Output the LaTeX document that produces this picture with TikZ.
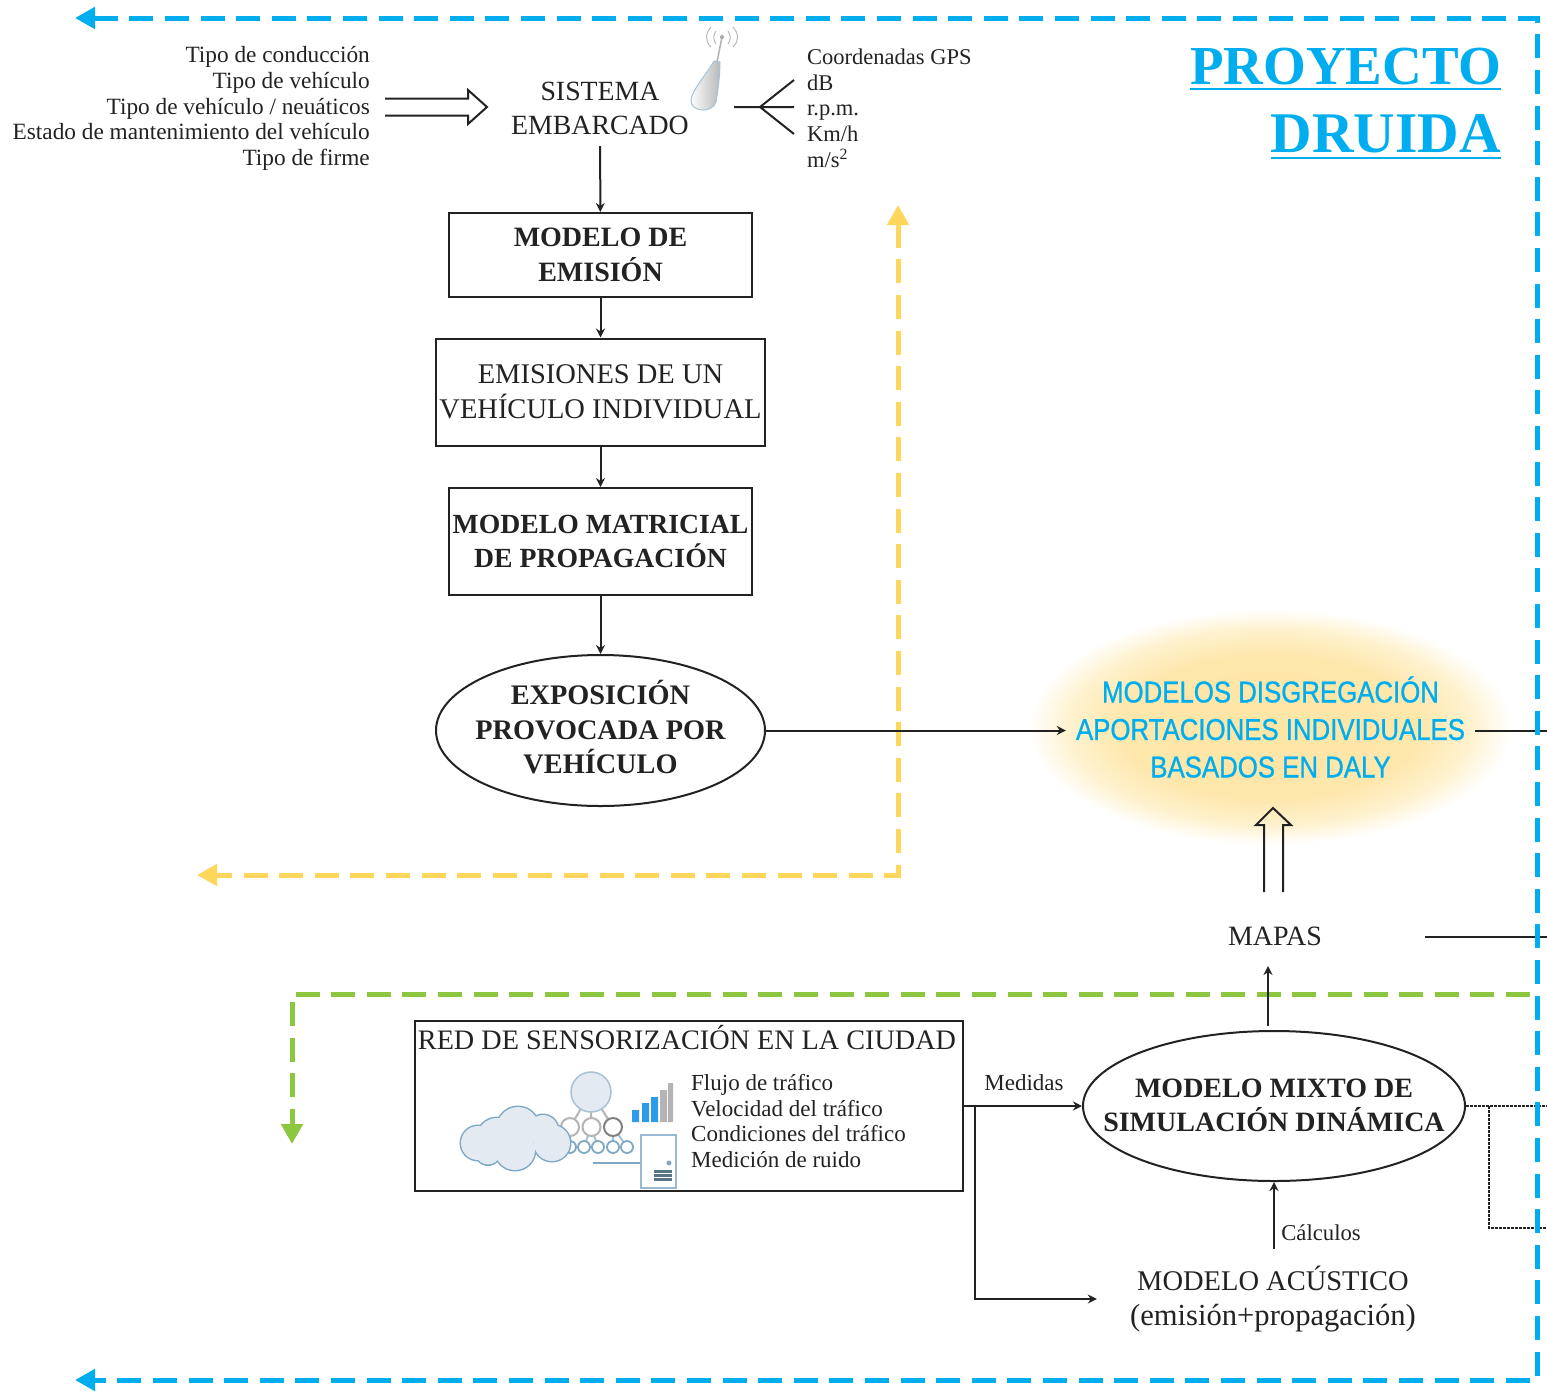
\documentclass[tikz,border=0pt]{standalone}
\usepackage{fontspec}
\setmainfont{Liberation Serif}
\newfontfamily\narrowsans[FakeStretch=0.86,FakeBold=0.9]{Liberation Sans}
\usetikzlibrary{shapes.geometric,arrows.meta,calc}
\definecolor{ink}{HTML}{222222}
\definecolor{bluedash}{HTML}{00AEEF}
\definecolor{greendash}{HTML}{8DC63F}
\definecolor{yellowdash}{HTML}{FFD65C}
\definecolor{cloudfill}{HTML}{E3EAF2}
\definecolor{cloudline}{HTML}{7FA8C4}
\definecolor{signalblue}{HTML}{2E9BEA}
\definecolor{signalgrey}{HTML}{B4B4B4}
\pgfdeclareradialshading{glowshade}{\pgfpoint{0bp}{0bp}}{rgb(0bp)=(0.995,0.90,0.65);rgb(15bp)=(0.995,0.905,0.67);rgb(20.5bp)=(0.998,0.945,0.80);rgb(25bp)=(1,1,1);rgb(50bp)=(1,1,1)}
\newcommand\titleline[1]{\setbox0\hbox{#1}\rlap{\raisebox{-6pt}{\rule{\wd0}{2pt}}}\box0}
\tikzset{
  boldtxt/.style={font=\fontsize{28}{34.5}\selectfont\bfseries,text=ink,align=center,inner sep=0pt},
  plaintxt/.style={font=\fontsize{28.5}{34.5}\selectfont,text=ink,align=center,inner sep=0pt},
  smalltxt/.style={font=\fontsize{22.7}{25.7}\selectfont,text=ink,inner sep=0pt},
  boxed/.style={draw=ink,line width=2pt},
  oval/.style={ellipse,draw=ink,line width=2pt,inner sep=0pt},
  conn/.style={draw=ink,line width=2pt,-{Stealth[length=9pt,width=9pt]}},
  plainline/.style={draw=ink,line width=2pt},
  hollow/.style={draw=ink,line width=2pt,line join=miter},
  dotline/.style={draw=ink,line width=2pt,dash pattern=on 2.5pt off 1.5pt},
  bluepath/.style={draw=bluedash,line width=5pt,dash pattern=on 24pt off 11.6pt,{Triangle[length=20pt,width=21pt]}-{Triangle[length=20pt,width=21pt]}},
  greenpath/.style={draw=greendash,line width=5pt,dash pattern=on 24pt off 11.6pt,-{Triangle[length=20pt,width=21pt]}},
  yellowpath/.style={draw=yellowdash,line width=5pt,dash pattern=on 24pt off 11.6pt,{Triangle[length=20pt,width=21pt]}-{Triangle[length=20pt,width=21pt]}},
}
\begin{document}
\begin{tikzpicture}[x=1pt,y=-1pt]
\useasboundingbox (0,0) rectangle (1547,1390);
\clip (0,0) rectangle (1547,1390);

% glow behind the disaggregation models
\shade[shading=glowshade] (1270,727) ellipse [x radius=242,y radius=118];

% yellow and green dashed feedback paths
\coordinate (ytop) at (898,205);
\coordinate (ycorner) at (898,875);
\coordinate (yend) at (197,875);
\draw[yellowpath] (ytop) -- (ycorner) -- (yend);
\coordinate (gstart) at (1530,994);
\coordinate (gcorner) at (292,994);
\coordinate (gend) at (292,1144);
\draw[greenpath] (gstart) -- (gcorner) -- (gend);

% title
\node[anchor=east,inner sep=0pt,text=bluedash,font=\fontsize{55}{55}\selectfont\bfseries] (proy) at (1501,69) {\titleline{PROYECTO}};
\node[anchor=east,inner sep=0pt,text=bluedash,font=\fontsize{57.5}{57.5}\selectfont\bfseries] (druida) at (1501,137) {\titleline{DRUIDA}};

% top inputs and outputs
\node[smalltxt,font=\fontsize{23.3}{25.7}\selectfont,anchor=east,align=right] (inputs) at (370,108.5) {Tipo de conducción\\Tipo de vehículo\\Tipo de vehículo / neuáticos\\Estado de mantenimiento del vehículo\\Tipo de firme};
\node[smalltxt,font=\fontsize{22.5}{25.7}\selectfont,anchor=west,align=left] (outputs) at (807,108) {Coordenadas GPS\\dB\\r.p.m.\\Km/h\\m/s\textsuperscript{2}};
\node[plaintxt,font=\fontsize{27.8}{34.5}\selectfont,minimum height=75pt] (sis) at (600,108.5) {SISTEMA\\EMBARCADO};

% boxes
\node[boxed,boldtxt,minimum width=303pt,minimum height=84pt] (modelo) at (600.5,255) {MODELO DE\\EMISIÓN};
\node[boxed,plaintxt,minimum width=329pt,minimum height=107pt] (emis) at (600.5,392) {EMISIONES DE UN\\VEHÍCULO INDIVIDUAL};
\node[boxed,boldtxt,font=\fontsize{27.7}{34.5}\selectfont\bfseries,minimum width=303pt,minimum height=107pt] (matr) at (600.5,541.5) {MODELO MATRICIAL\\DE PROPAGACIÓN};
\node[oval,minimum width=329pt,minimum height=151pt] (expo) at (600.5,730.5) {};
\node[boldtxt,font=\fontsize{28.3}{34.5}\selectfont\bfseries] (expotxt) at (600.5,727.5) {EXPOSICIÓN\\PROVOCADA POR\\VEHÍCULO};

\node[inner sep=10pt,text=bluedash,align=center,font=\fontsize{30}{37.5}\selectfont\narrowsans] (disg) at (1270.5,727) {MODELOS DISGREGACIÓN\\APORTACIONES INDIVIDUALES\\BASADOS EN DALY};
\node[plaintxt,font=\fontsize{28}{34.5}\selectfont] (mapas) at (1275,936) {MAPAS};
\node[oval,minimum width=382pt,minimum height=150pt] (mixto) at (1274,1106) {};
\node[boldtxt] (mixtotxt) at (1274,1105.5) {MODELO MIXTO DE\\SIMULACIÓN DINÁMICA};
\node[plaintxt,minimum width=352pt,minimum height=100pt] (acus) at (1273,1299) {MODELO ACÚSTICO\\{\fontsize{30.6}{34.5}\selectfont (emisión+propagación)}};

% sensor network box
\node[boxed,minimum width=548pt,minimum height=170pt] (red) at (689,1106) {};
\node[plaintxt,font=\fontsize{28.2}{34.5}\selectfont] (redtit) at (687,1037.5) {RED DE SENSORIZACIÓN EN LA CIUDAD};
\node[smalltxt,font=\fontsize{23}{25.7}\selectfont,anchor=west,align=left] (redlist) at (691,1121) {Flujo de tráfico\\Velocidad del tráfico\\Condiciones del tráfico\\Medición de ruido};

% network icon
\draw[signalgrey,line width=2pt] (591,1092) -- (570,1127) (591,1092) -- (591,1127) (591,1092) -- (613,1127);
\draw[cloudline!70,line width=2pt] (570,1127)--(570,1147) (591,1127)--(584,1147) (591,1127)--(598,1147) (613,1127)--(613,1147) (613,1127)--(627,1147);
\fill[cloudfill,draw=cloudline!70,line width=1.5pt] (591,1092) circle (20);
\fill[white,draw=signalgrey,line width=2pt] (570,1127) circle (9) (591.5,1127) circle (9);
\fill[white,draw=gray,line width=2pt] (613,1127) circle (9);
\foreach \cx in {570,584,598,613,627} {\fill[white,draw=cloudline,line width=1.8pt] (\cx,1147) circle (6);}
\fill[cloudline] (478,1143) circle (18.5) (518,1128) circle (22.5) (497,1138) circle (21.5) (543,1130) circle (16.5) (552,1143) circle (19.5) (515,1150) circle (21.5) (488,1152) circle (14);
\fill[cloudfill] (478,1143) circle (17) (518,1128) circle (21) (497,1138) circle (20) (543,1130) circle (15) (552,1143) circle (18) (515,1150) circle (20) (488,1152) circle (12.5);
\fill[signalblue] (632,1110) rectangle +(7,12) (642,1103) rectangle +(7,19) (651,1097) rectangle +(7,25);
\fill[signalgrey] (660,1090) rectangle +(7,32) (668,1083) rectangle +(5,39);
\draw[cloudline,line width=1.8pt] (593,1163) -- (641,1163);
\draw[cloudline!80,fill=white,line width=1.8pt] (641,1135) rectangle (676,1188);
\fill[cloudline] (669,1163) circle (2.5);
\fill[cloudline!70!black] (654,1170) rectangle (672,1181);
\draw[white,line width=0.8pt] (654,1173.5) -- (672,1173.5) (654,1177) -- (672,1177);

% antenna
\shade[left color=white,right color=gray!55,draw=cloudline!70,line width=1pt] (714,61) .. controls (706,75) and (692,90) .. (691,100) .. controls (690,112) and (712,114) .. (716,102) .. controls (718,90) and (720,75) .. (720,62) -- cycle;
\draw[gray!60,line width=1.5pt] (717,62) -- (722,37);
\fill[gray!70] (722,37) circle (2);
\draw[gray!55,line width=1pt] (716,31) .. controls (713,35) and (713,40) .. (716,44)
  (728,31) .. controls (731,35) and (731,40) .. (728,44)
  (711,27) .. controls (705,34) and (705,41) .. (711,47)
  (733,27) .. controls (739,34) and (739,41) .. (733,47);

% connectors
\draw[conn] (sis) -- (modelo);
\draw[conn] (modelo) -- (emis);
\draw[conn] (emis) -- (matr);
\draw[conn] (matr) -- (expo);
\draw[conn] (expo.east) -- (disg.west |- expo.east);
\coordinate (disgout) at (1547,731);
\draw[plainline] (disg.east |- disgout) -- (disgout);

% double arrow to the onboard system
\coordinate (inpA) at (385,107);
\draw[hollow] ($(inpA)+(0,-8.5)$) -- ++(83,0) -- ++(0,-8.5) -- ++(19,17) -- ++(-19,17) -- ++(0,-8.5) -- ++(-83,0);

% fan of outputs
\coordinate (fanS) at (734,107);
\coordinate (fanJ) at (760,107);
\draw[plainline] (fanS) -- (fanJ) -- (794,80) (fanJ) -- (794,107) (fanJ) -- (794,134);

% double arrow mapas to models
\coordinate (mapTop) at (1273,892);
\draw[hollow] ($(mapTop)+(-9,0)$) -- ++(0,-67) -- ++(-8,0) -- ++(17,-17) -- ++(18,17) -- ++(-8,0) -- ++(0,67);
\coordinate (mapOut) at (1547,937);
\coordinate (mapStart) at (1425,937);
\draw[plainline] (mapStart) -- (mapOut);
\coordinate (mapIn) at (1268,966);
\draw[conn] (mapIn |- mixto.north) ++(0,-4) -- (mapIn);

% measures
\coordinate (redE) at (975,1106);
\draw[conn] (red.east |- mixto) -- (mixto.west);
\node[smalltxt,font=\fontsize{23}{25.7}\selectfont] (medidas) at (1024,1083) {Medidas};
\coordinate (acusC) at (975,1299);
\draw[conn] (redE) -- (acusC) -- (acus.west |- acusC);
\coordinate (calc) at (1274,1182);
\draw[conn] (calc |- acus.north) -- (calc);
\node[smalltxt,font=\fontsize{22.7}{25.7}\selectfont] (calculos) at (1321,1233) {Cálculos};

% dotted outputs
\coordinate (dotJ) at (1489,1106);
\coordinate (dotOut) at (1547,1106);
\coordinate (dotB) at (1489,1228);
\coordinate (dotOutB) at (1547,1228);
\draw[dotline] (mixto.east) -- (dotOut);
\draw[dotline] (dotJ) -- (dotB) -- (dotOutB);

% blue frame
\coordinate (btl) at (75,18);
\coordinate (btr) at (1537,18);
\coordinate (bbr) at (1537,1380);
\coordinate (bbl) at (75,1380);
\draw[bluepath] (btl) -- (btr) -- (bbr) -- (bbl);
\end{tikzpicture}
\end{document}
